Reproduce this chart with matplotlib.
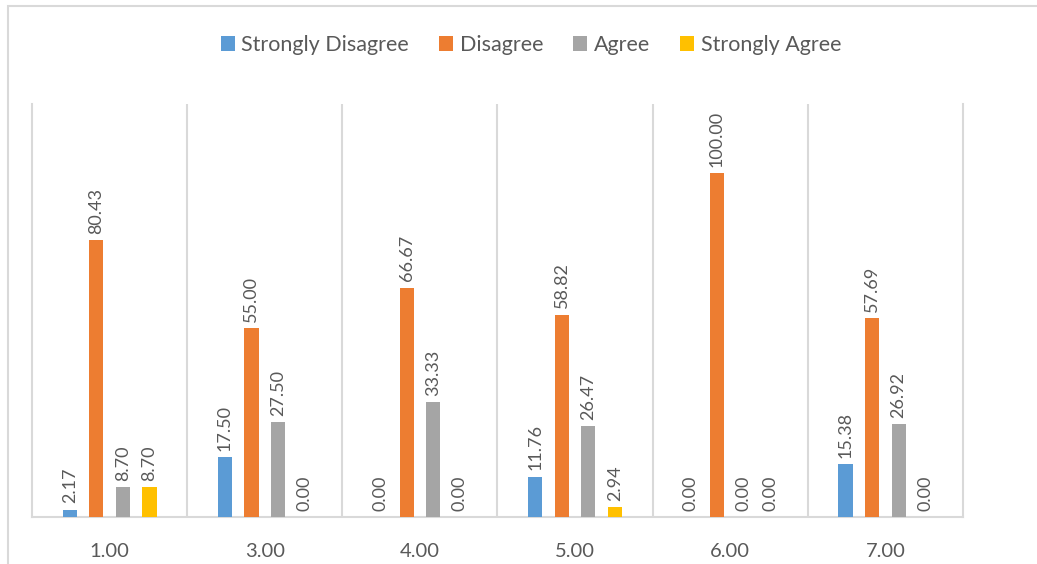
import numpy as np
import matplotlib
matplotlib.use('Agg')
import matplotlib.pyplot as plt
from matplotlib.patches import Rectangle

plt.rcParams['font.family'] = ['Lato', 'DejaVu Sans']

categories = ['1.00', '3.00', '4.00', '5.00', '6.00', '7.00']
series = ['Strongly Disagree', 'Disagree', 'Agree', 'Strongly Agree']
strongly_disagree = [2.17, 17.50, 0.00, 11.76, 0.00, 15.38]
disagree = [80.43, 55.00, 66.67, 58.82, 100.00, 57.69]
agree = [8.70, 27.50, 33.33, 26.47, 0.00, 26.92]
strongly_agree = [8.70, 0.00, 0.00, 2.94, 0.00, 0.00]
colors = ['#5B9BD5', '#ED7D31', '#A5A5A5', '#FFC000']

values = [strongly_disagree, disagree, agree, strongly_agree]
txt = '#595959'
grid = '#D9D9D9'

fig = plt.figure(figsize=(10.37, 5.64), dpi=100)
ax = fig.add_axes([32/1037, 47/564, 931/1037, 413/564])

# chart border (cropped on right and bottom in the reference)
fig.patches.append(Rectangle((8/1037, -0.1), 1.2, 0.1 + 558/564, transform=fig.transFigure,
                             fill=False, edgecolor=grid, lw=1.5))

x = np.arange(len(categories))
step = 0.171
width = 0.092
for i, (name, vals, c) in enumerate(zip(series, values, colors)):
    pos = x + (i - 1.5) * step
    ax.bar(pos, vals, width, color=c, label=name, zorder=3)
    for px, v in zip(pos, vals):
        ax.text(px, v + 1.8, '%.2f' % v, rotation=90, ha='center', va='bottom',
                fontsize=13, color=txt)

ax.set_xlim(-0.5, len(categories) - 0.5)
ax.set_ylim(0, 120)
ax.set_yticks([])
ax.set_xticks(x)
ax.set_xticklabels(categories, fontsize=14.5, color=txt)
ax.tick_params(axis='x', length=0, pad=19)
for b in np.arange(0.5, len(categories) - 1, 1):
    ax.axvline(b, color=grid, lw=1.5, zorder=1)
for s in ['left', 'right', 'bottom']:
    ax.spines[s].set_color(grid)
    ax.spines[s].set_linewidth(1.5)
ax.spines['top'].set_visible(False)

fig.legend(loc='center', bbox_to_anchor=(531/1037, 1 - 45/564), ncol=4, frameon=False,
           fontsize=15.5, labelcolor=txt, handlelength=0.65, handleheight=0.65,
           handletextpad=0.3, columnspacing=1.4)

fig.savefig('out.png', dpi=100)
